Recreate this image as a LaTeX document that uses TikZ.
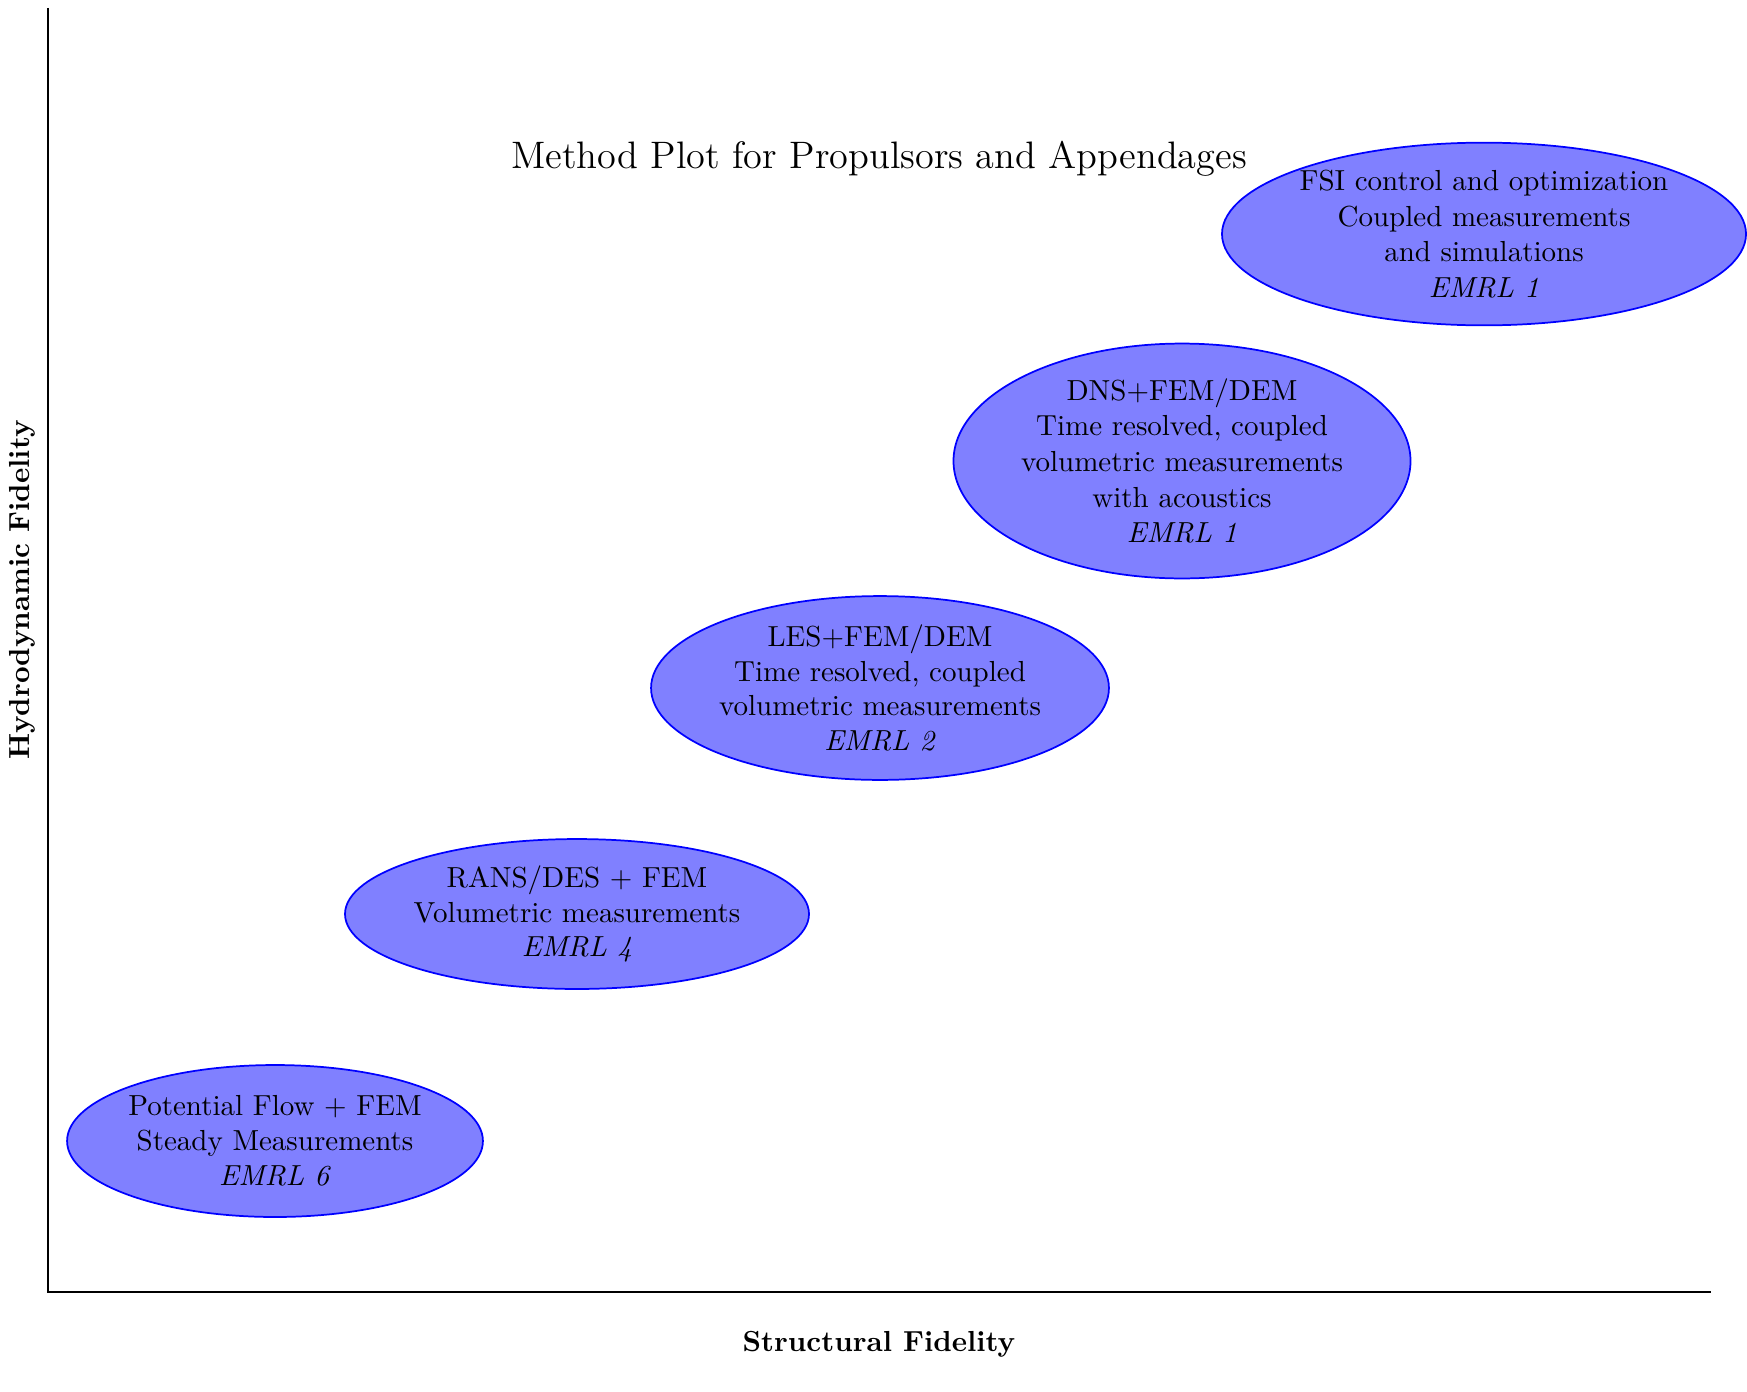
\documentclass[tikz,border=0pt]{standalone}
\usetikzlibrary{shapes.geometric}

\tikzset{
  bubble/.style={ellipse, draw=blue, fill=blue!50, semithick, inner sep=0pt},
  bubbletext/.style={align=center, inner sep=0pt},
  axisline/.style={draw=black, line width=0.5pt},
  axislabel/.style={font=\bfseries, inner sep=0pt},
}

\begin{document}
\begin{tikzpicture}[x=0.34483pt, y=-0.34483pt]
  % canvas
  \useasboundingbox (0,0) rectangle (1747,1391);

  % axes
  \coordinate (top) at (48,8);
  \coordinate (origin) at (48,1292);
  \coordinate (right) at (1711,1292);
  \draw[axisline] (top) -- (origin) -- (right);

  % axis labels and title
  \node[axislabel] (xlab) at (879,1344) {Structural Fidelity};
  \node[axislabel, rotate=90] (ylab) at (22,590) {Hydrodynamic Fidelity};
  \node[font=\fontsize{13.2}{16}\selectfont, inner sep=0pt] (title) at (879,159) {Method Plot for Propulsors and Appendages};

  % method regions
  \node[bubble, minimum width=143.4pt, minimum height=52.4pt] (m6) at (275,1141) {};
  \node[bubbletext] (t6) at (m6) {Potential Flow + FEM\\Steady Measurements\\\textit{EMRL 6}};

  \node[bubble, minimum width=160pt, minimum height=51.7pt] (m4) at (577,914) {};
  \node[bubbletext] (t4) at (m4) {RANS/DES + FEM\\Volumetric measurements\\\textit{EMRL 4}};

  \node[bubble, minimum width=157.9pt, minimum height=63.4pt] (m2) at (880,688) {};
  \node[bubbletext] (t2) at (m2) {LES+FEM/DEM\\Time resolved, coupled\\volumetric measurements\\\textit{EMRL 2}};

  \node[bubble, minimum width=157.6pt, minimum height=81pt] (m1a) at (1182,461) {};
  \node[bubbletext] (t1a) at (m1a) {DNS+FEM/DEM\\[0.3pt]Time resolved, coupled\\[0.3pt]volumetric measurements\\[0.3pt]with acoustics\\[0.3pt]\textit{EMRL 1}};

  \node[bubble, minimum width=180.7pt, minimum height=63pt] (m1b) at (1484,234) {};
  \node[bubbletext] (t1b) at (m1b) {FSI control and optimization\\[0.3pt]Coupled measurements\\[0.3pt]and simulations\\[0.3pt]\textit{EMRL 1}};
\end{tikzpicture}
\end{document}
